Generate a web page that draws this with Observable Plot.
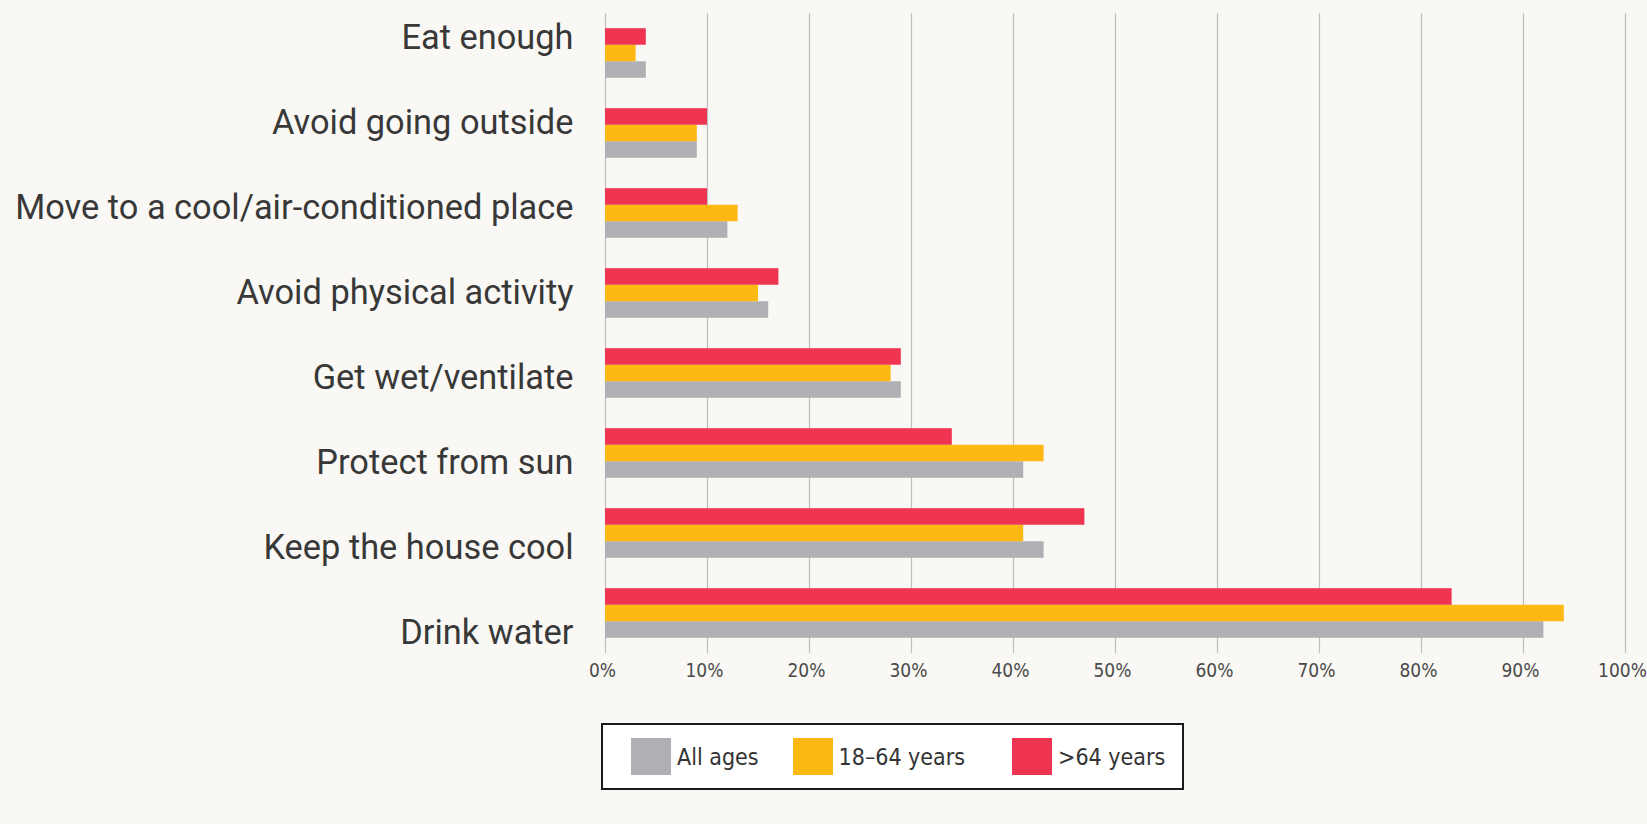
<!DOCTYPE html>
<html><head><meta charset="utf-8">
<script src="https://cdn.jsdelivr.net/npm/d3@7"></script>
<script src="https://cdn.jsdelivr.net/npm/@observablehq/plot@0.6"></script>
<style>
html,body{margin:0;padding:0;background:#faf8f5;}
#wrap{position:relative;width:1647px;height:824px;overflow:hidden;background:#faf8f5;}
#wrap svg{position:absolute;left:0;top:0;background:transparent;overflow:visible;}
#legend{position:absolute;left:601px;top:723px;width:583px;height:67px;box-sizing:border-box;border:2px solid #1a1a1a;background:#fff;display:flex;align-items:center;padding-left:28px;gap:34px;}
.item{display:flex;align-items:center;white-space:nowrap;}
.item:nth-child(3){margin-left:13px;}
.sw{width:40px;height:37px;flex:none;}
.lab{font-family:"Liberation Sans Narrow","DejaVu Sans Condensed","Roboto",sans-serif;font-size:23px;color:#333;margin-left:6px;white-space:nowrap;}
</style></head>
<body>
<div id="wrap"></div>
<script>
const categories = ["Eat enough","Avoid going outside","Move to a cool/air-conditioned place","Avoid physical activity","Get wet/ventilate","Protect from sun","Keep the house cool","Drink water"];
const series = ["All ages","18–64 years",">64 years"];
const colors = ["#aeb0b3","#fdb913","#ee3450"];
const allAges = [4,9,12,16,29,41,43,92];
const age18to64 = [3,9,13,15,28,43,41,94];
const over64 = [4,10,10,17,29,34,47,83];
const xTicks = [0,10,20,30,40,50,60,70,80,90,100];

const seriesValues = [allAges, age18to64, over64];
const rows = [];
categories.forEach((c, i) => series.forEach((s, j) => rows.push({category: c, series: s, value: seriesValues[j][i]})));

const wrap = document.getElementById("wrap");

const chart = Plot.plot({
  width: 1647, height: 700,
  marginLeft: 605, marginRight: 22, marginTop: 13, marginBottom: 47,
  style: {background: "transparent"},
  x: {domain: [0, 100], axis: null},
  fy: {domain: categories, padding: 0, round: false, axis: null},
  y: {domain: [...series].reverse(), paddingInner: 0, paddingOuter: 0.92, round: false, axis: null},
  color: {domain: series, range: colors},
  marks: [
    Plot.ruleX(xTicks, {stroke: "#bdbdbd", strokeWidth: 1.2}),
    Plot.barX(rows, {x: "value", y: "series", fy: "category", fill: "series"}),
    Plot.axisX({ticks: xTicks, tickFormat: d => d + "%", tickSize: 0, tickPadding: 10, label: null, fill: "#4a4a4a",
      fontSize: 19, dx: -3, fontFamily: "'Liberation Sans Narrow','DejaVu Sans Condensed',Roboto,sans-serif"})
  ]
});
wrap.appendChild(chart);

const labels = Plot.plot({
  width: 605, height: 700,
  marginLeft: 0, marginRight: 32, marginTop: 35, marginBottom: 67,
  style: {background: "transparent"},
  x: {axis: null},
  y: {type: "point", domain: categories, padding: 0, axis: null},
  marks: [
    Plot.text(categories, {y: d => d, text: d => d, frameAnchor: "right", textAnchor: "end",
      fontSize: 34.4, fill: "#383838", fontFamily: "Roboto, sans-serif"})
  ]
});
wrap.appendChild(labels);

const legend = document.createElement("div");
legend.id = "legend";
series.forEach((s, i) => {
  const it = document.createElement("div"); it.className = "item";
  const sw = document.createElement("div"); sw.className = "sw"; sw.style.background = colors[i];
  const lb = document.createElement("span"); lb.className = "lab"; lb.textContent = s;
  it.appendChild(sw); it.appendChild(lb); legend.appendChild(it);
});
wrap.appendChild(legend);
</script>
</body></html>
